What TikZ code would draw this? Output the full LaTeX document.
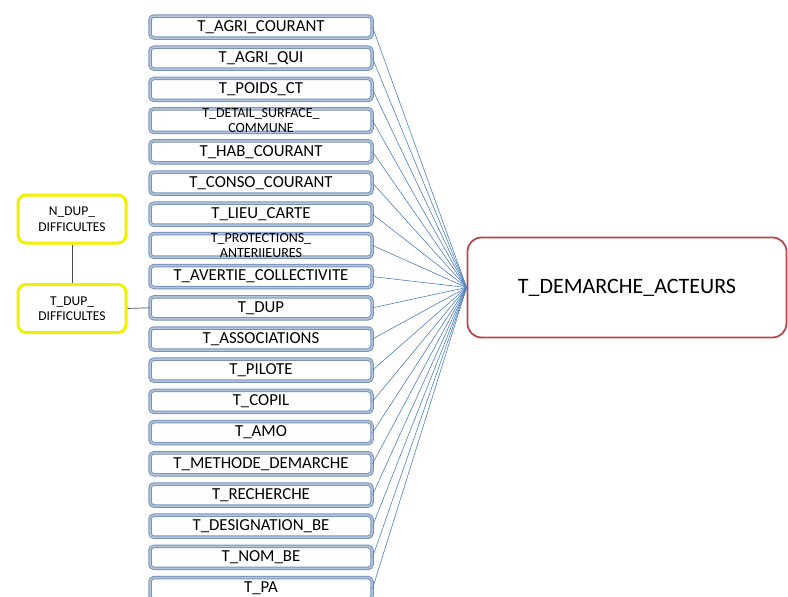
\documentclass[tikz,border=0pt]{standalone}
\usepackage{fontspec}
\setmainfont{Carlito}
\usepackage{xcolor}
\definecolor{boxblue}{HTML}{7892B8}
\definecolor{boxblueinner}{HTML}{B4C6DE}
\definecolor{linkblue}{HTML}{4F81BD}
\definecolor{bigred}{HTML}{B5494A}
\definecolor{dupyellow}{HTML}{F0F000}

\tikzset{
    tbox/.style={draw=boxblue,double=boxblueinner,double distance=1.5pt,line width=1pt,
        rounded corners=4pt,fill=white,minimum width=222pt,minimum height=22pt,
        inner sep=0pt,align=center,font=\fontsize{16.8}{17}\selectfont},
    tboxtwo/.style={tbox,font=\fontsize{14}{14.5}\selectfont},
    dupbox/.style={draw=dupyellow,line width=3pt,rounded corners=8pt,fill=white,
        minimum width=108pt,minimum height=48pt,inner sep=0pt,align=center,
        font=\fontsize{13.5}{15.5}\selectfont},
    link/.style={draw=linkblue,line width=0.6pt}
}

\begin{document}
\begin{tikzpicture}[x=1pt,y=-1pt]
    \useasboundingbox (0,0) rectangle (788,597);
    \fill[white] (0,0) rectangle (788,597);
    \node[tbox] (T1) at (261,27) {T\_AGRI\_COURANT};
    \node[tbox] (T2) at (261,58.2) {T\_AGRI\_QUI};
    \node[tbox] (T3) at (261,89.4) {T\_POIDS\_CT};
    \node[tboxtwo] (T4) at (261,120.6) {T\_DETAIL\_SURFACE\_\\COMMUNE};
    \node[tbox] (T5) at (261,151.8) {T\_HAB\_COURANT};
    \node[tbox] (T6) at (261,183) {T\_CONSO\_COURANT};
    \node[tbox] (T7) at (261,214.2) {T\_LIEU\_CARTE};
    \node[tboxtwo] (T8) at (261,245.4) {T\_PROTECTIONS\_\\ANTERIIEURES};
    \node[tbox] (T9) at (261,276.6) {T\_AVERTIE\_COLLECTIVITE};
    \node[tbox] (T10) at (261,307.8) {T\_DUP};
    \node[tbox] (T11) at (261,339) {T\_ASSOCIATIONS};
    \node[tbox] (T12) at (261,370.2) {T\_PILOTE};
    \node[tbox] (T13) at (261,401.4) {T\_COPIL};
    \node[tbox] (T14) at (261,432.6) {T\_AMO};
    \node[tbox] (T15) at (261,463.8) {T\_METHODE\_DEMARCHE};
    \node[tbox] (T16) at (261,495) {T\_RECHERCHE};
    \node[tbox] (T17) at (261,526.2) {T\_DESIGNATION\_BE};
    \node[tbox] (T18) at (261,557.4) {T\_NOM\_BE};
    \node[tbox] (T19) at (261,588.6) {T\_PA};

    % main table
    \node[draw=bigred,line width=1.8pt,rounded corners=14pt,fill=white,
        minimum width=319pt,minimum height=100pt,font=\fontsize{22}{24}\selectfont]
        (D) at (627,287.5) {T\_DEMARCHE\_ACTEURS};

    \foreach \i in {1,...,19}
        \draw[link] (T\i.east) -- (D.west);

    % DUP side tables
    \node[dupbox] (N1) at (72,219) {N\_DUP\_\\DIFFICULTES};
    \node[dupbox] (N2) at (72,308.5) {T\_DUP\_\\DIFFICULTES};
    \draw[black!70,line width=0.7pt] (N1) -- (N2);
    \draw[black!70,line width=0.7pt] (N2.east) -- (T10.west);
\end{tikzpicture}
\end{document}
